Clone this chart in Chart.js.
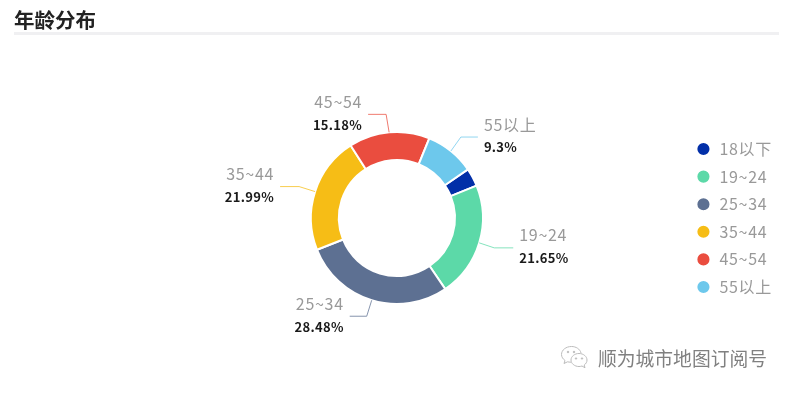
<!DOCTYPE html>
<html>
<head>
<meta charset="utf-8">
<script src="https://cdn.jsdelivr.net/npm/chart.js@4/dist/chart.umd.min.js"></script>
<style>
  html, body { margin: 0; padding: 0; background: #fff; width: 793px; height: 393px; overflow: hidden; }
  #title { position: absolute; left: 14px; top: 5px; font: bold 20.5px "Noto Sans CJK SC"; line-height: 28px; color: #222; }
  #rule { position: absolute; left: 14px; top: 32px; width: 765px; height: 3px; background: #f0f0f2; }
  #wrap { position: absolute; left: 0; top: 0; width: 793px; height: 393px; }
  #mark { position: absolute; left: 598px; top: 345px; font: 18.8px "Noto Sans CJK SC"; line-height: 26px; color: #808080; white-space: nowrap; }
  #icon { position: absolute; left: 559px; top: 344px; }
</style>
</head>
<body>
<div id="wrap"><canvas id="ageChart" width="793" height="393"></canvas></div>
<div id="title">年龄分布</div>
<div id="rule"></div>
<svg id="icon" width="34" height="28" viewBox="0 0 34 28" fill="none" stroke="#bbb" stroke-width="1">
  <path d="M22 9C21 5 17 2.500 12.500 2.500C7 2.500 2.500 6 2.500 10.500C2.500 13 4 15 6 16.500L5 19.500L8.500 17.800C9.500 18 10.500 18.200 12 18.200"/>
  <path d="M20 9.500C15.500 9.500 12 12.500 12 16C12 19.500 15.500 22.500 20 22.500C21 22.500 22 22.300 23 22L26 23.800L25.200 21C27 19.800 28 18 28 16C28 12.500 24.500 9.500 20 9.500Z"/>
  <circle cx="9" cy="8" r="0.8" fill="#bbb"/><circle cx="15" cy="8" r="0.8" fill="#bbb"/>
  <circle cx="17" cy="14.500" r="0.7" fill="#bbb"/><circle cx="23" cy="14.500" r="0.7" fill="#bbb"/>
</svg>
<div id="mark">顺为城市地图订阅号</div>
<script>
// age groups and their share in percent
const ageGroups = ["18以下", "19~24", "25~34", "35~44", "45~54", "55以上"];
const shares = [3.4, 21.65, 28.48, 21.99, 15.18, 9.3];
const shareLabels = ["", "21.65%", "28.48%", "21.99%", "15.18%", "9.3%"];
const sliceColors = ["#022fa8", "#5cd9a8", "#5d7092", "#f6bd16", "#ea4d3f", "#6dc8ec"];

// leader line shape for each slice: first segment [dx, dy], then horizontal run
const leaderBends = [null, [15, 5], [-5, 16], [-16, -5], [-3, -18], [10, -14]];
const leaderRuns = [0, 19, -17, -19, -18, 17];

// source font has wider digits, keep the text the same width
const textSpacing = "0.7px";

const sliceLabels = {
  id: "sliceLabels",
  beforeLayout(chart) {
    chart.ctx.letterSpacing = textSpacing;
  },
  beforeDraw(chart) {
    chart.ctx.letterSpacing = textSpacing;
  },
  afterDatasetsDraw(chart) {
    const ctx = chart.ctx;
    const arcs = chart.getDatasetMeta(0).data;
    arcs.forEach((arc, i) => {
      if (!leaderBends[i]) return; // smallest slice has no label
      const mid = (arc.startAngle + arc.endAngle) / 2;
      const x0 = arc.x + Math.cos(mid) * arc.outerRadius;
      const y0 = arc.y + Math.sin(mid) * arc.outerRadius;
      const x1 = x0 + leaderBends[i][0];
      const y1 = y0 + leaderBends[i][1];
      const x2 = x1 + leaderRuns[i];

      ctx.save();
      ctx.strokeStyle = sliceColors[i];
      ctx.globalAlpha = 0.75;
      ctx.lineWidth = 1;
      ctx.beginPath();
      ctx.moveTo(x0, y0);
      ctx.lineTo(x1, y1);
      ctx.lineTo(x2, y1);
      ctx.stroke();
      ctx.restore();

      const right = leaderRuns[i] < 0;
      const tx = x2 + (right ? -6 : 6);
      ctx.save();
      ctx.textAlign = right ? "right" : "left";
      ctx.textBaseline = "middle";
      ctx.fillStyle = "#999";
      ctx.font = '16px "Noto Sans CJK SC"';
      ctx.fillText(ageGroups[i], tx, y1 - 12.5);
      ctx.fillStyle = "#1a1a1a";
      ctx.letterSpacing = "0.3px";
      ctx.font = 'bold 13px "Noto Sans CJK SC"';
      ctx.fillText(shareLabels[i], tx, y1 + 10.5);
      ctx.restore();
    });
  }
};

new Chart(document.getElementById("ageChart"), {
  type: "doughnut",
  data: {
    labels: ageGroups,
    datasets: [{
      data: shares,
      backgroundColor: sliceColors,
      borderColor: "#fff",
      borderWidth: 2,
      borderAlign: "center"
    }]
  },
  options: {
    responsive: false,
    animation: false,
    rotation: 55.6,
    radius: 86,
    cutout: "67.5%",
    layout: { padding: { left: 110, right: 11, top: 43, bottom: 0 } },
    plugins: {
      tooltip: { enabled: false },
      legend: {
        position: "right",
        labels: {
          usePointStyle: true,
          pointStyle: "circle",
          boxWidth: 16,
          boxHeight: 10,
          padding: 11.6,
          color: "#999",
          font: { family: "Noto Sans CJK SC", size: 16 }
        }
      }
    }
  },
  plugins: [sliceLabels]
});
</script>
</body>
</html>
